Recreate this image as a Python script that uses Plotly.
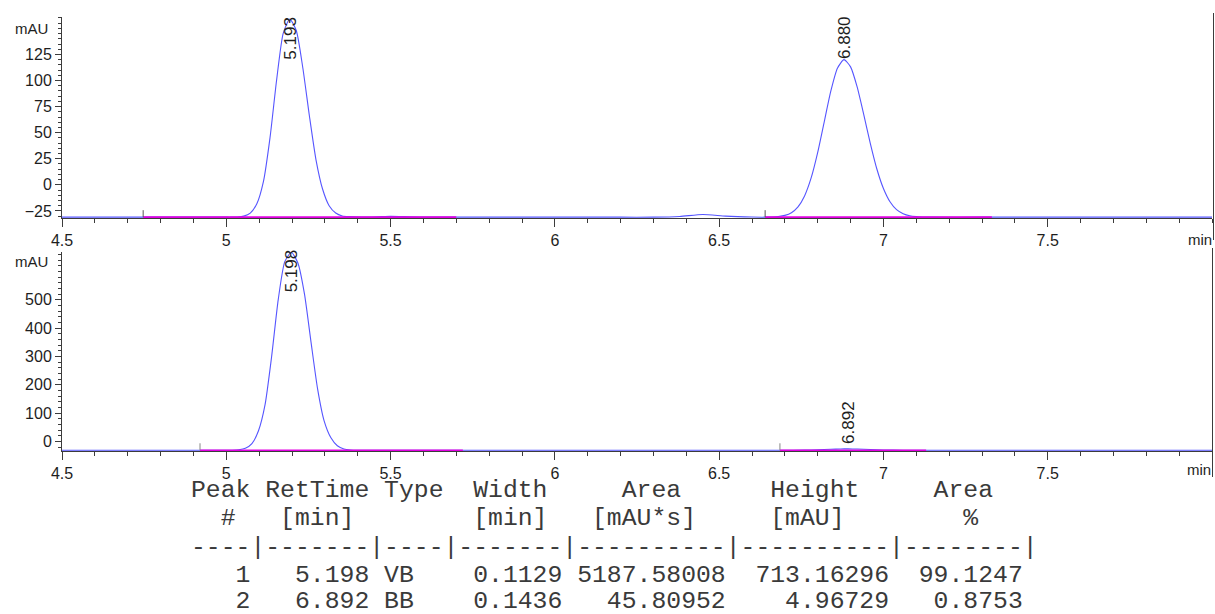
import plotly.graph_objects as go

# ---------------- data ----------------
# Upper chromatogram (signal 1)
top_time = [4.50, 4.75, 5.00, 5.013, 5.033, 5.053, 5.073, 5.093, 5.113, 5.133, 5.153, 5.173,
            5.193, 5.213, 5.233, 5.253, 5.273, 5.293, 5.313, 5.333, 5.353, 5.373, 5.393,
            5.43, 5.46, 5.50, 5.56, 5.62, 5.80, 6.00, 6.20, 6.30, 6.38, 6.45, 6.52, 6.60,
            6.64, 6.66, 6.68, 6.70, 6.72, 6.74, 6.76, 6.78, 6.80, 6.82, 6.84, 6.86, 6.88,
            6.90, 6.92, 6.94, 6.96, 6.98, 7.00, 7.02, 7.04, 7.06, 7.08, 7.10, 7.12, 7.14,
            7.30, 7.60, 8.00]
top_signal = [-31.0, -31.0, -31.0, -31.0, -30.8, -30.0, -27.1, -18.2, 3.0, 45.0, 100.0, 145.0,
              159.0, 148.0, 112.0, 66.0, 24.0, -4.0, -20.0, -27.0, -29.8, -30.5, -30.7,
              -30.8, -30.6, -30.2, -30.6, -30.9, -31.0, -31.0, -31.0, -31.0, -30.3, -28.4, -30.0, -30.9,
              -31.0, -30.8, -30.4, -29.3, -26.7, -21.1, -10.6, 6.6, 31.1, 60.7, 90.0, 111.8, 120.0,
              113.1, 93.9, 67.6, 39.8, 15.2, -3.5, -16.2, -23.8, -27.7, -29.7, -30.5, -30.8, -31.0,
              -31.0, -31.0, -31.0]

# Lower chromatogram (signal 2)
bot_time = [4.50, 4.90, 5.018, 5.038, 5.058, 5.078, 5.098, 5.118, 5.138, 5.158, 5.178, 5.198,
            5.218, 5.238, 5.258, 5.278, 5.298, 5.318, 5.338, 5.358, 5.378, 5.398, 5.45,
            5.70, 6.20, 6.70, 6.76, 6.80, 6.84, 6.87, 6.892, 6.92, 6.96, 7.00, 7.06, 7.12,
            7.50, 8.00]
bot_signal = [-31.0, -31.0, -30.6, -29.3, -24.2, -7.6, 38.0, 130.0, 300.0, 500.0, 635.0, 668.0,
              630.0, 520.0, 350.0, 185.0, 72.0, 14.0, -15.0, -26.5, -29.9, -30.8, -31.0,
              -31.0, -31.0, -31.0, -30.5, -29.3, -27.3, -26.3, -26.0, -26.5, -28.3, -30.0, -30.9, -31.0,
              -31.0, -31.0]

baseline_level = -31.0
top_base_start = [4.747, 6.640]
top_base_end = [5.700, 7.330]
bot_base_start = [4.920, 6.685]
bot_base_end = [5.720, 7.130]

top_peak_labels = ["5.193", "6.880"]
top_peak_times = [5.193, 6.880]
bot_peak_labels = ["5.198", "6.892"]
bot_peak_times = [5.198, 6.892]

x_ticks = [4.5, 5.0, 5.5, 6.0, 6.5, 7.0, 7.5]
x_tick_text = ["4.5", "5", "5.5", "6", "6.5", "7", "7.5"]
top_y_ticks = [-25, 0, 25, 50, 75, 100, 125]
bot_y_ticks = [0, 100, 200, 300, 400, 500]

# Peak table
peak_no = [1, 2]
ret_time = [5.198, 6.892]
peak_type = ["VB", "BB"]
peak_width = [0.1129, 0.1436]
peak_area = [5187.58008, 45.80952]
peak_height = [713.16296, 4.96729]
area_pct = [99.1247, 0.8753]

# ---------------- helpers (layout only) ----------------
W, H = 1215, 614
def px(x):
    return x / W
def py(y):
    return 1 - y / H

TRACE = "rgb(85,85,255)"
BASE = "rgb(225,0,225)"
AXC = "#3c3c3c"
TXT = "#1e1e1e"
SANS = "Liberation Sans, Arial, sans-serif"
MONO = "Liberation Mono, Courier New, monospace"

fig = go.Figure()

# traces
fig.add_trace(go.Scatter(x=top_time, y=top_signal, mode="lines",
                         line=dict(color=TRACE, width=1.1, shape="spline", smoothing=0.6),
                         xaxis="x", yaxis="y", hoverinfo="skip"))
for s, e in zip(top_base_start, top_base_end):
    fig.add_trace(go.Scatter(x=[s, e], y=[baseline_level, baseline_level], mode="lines",
                             line=dict(color=BASE, width=1.6), xaxis="x", yaxis="y", hoverinfo="skip"))
fig.add_trace(go.Scatter(x=bot_time, y=bot_signal, mode="lines",
                         line=dict(color=TRACE, width=1.1, shape="spline", smoothing=0.6),
                         xaxis="x2", yaxis="y2", hoverinfo="skip"))
for s, e in zip(bot_base_start, bot_base_end):
    fig.add_trace(go.Scatter(x=[s, e], y=[baseline_level, baseline_level], mode="lines",
                             line=dict(color=BASE, width=1.6), xaxis="x2", yaxis="y2", hoverinfo="skip"))

shapes = []
# baseline event markers
for t in top_base_start:
    shapes.append(dict(type="line", xref="x", yref="y", x0=t, x1=t, ysizemode="pixel",
                       yanchor=baseline_level, y0=0, y1=7, line=dict(color="#555", width=1)))
for t in bot_base_start:
    shapes.append(dict(type="line", xref="x2", yref="y2", x0=t, x1=t, ysizemode="pixel",
                       yanchor=baseline_level, y0=0, y1=7, line=dict(color="#888", width=1)))
# right borders
shapes.append(dict(type="line", xref="paper", yref="paper", x0=px(1213.5), x1=px(1213.5),
                   y0=py(13), y1=py(240), line=dict(color=AXC, width=1)))
shapes.append(dict(type="line", xref="paper", yref="paper", x0=px(1212.5), x1=px(1212.5),
                   y0=py(248), y1=py(477), line=dict(color=AXC, width=1)))

annotations = []
# peak labels
for lab, t in zip(top_peak_labels, top_peak_times):
    annotations.append(dict(text=lab, x=t, xref="x", y=py(38), yref="paper", showarrow=False,
                            textangle=-90, xanchor="center", yanchor="middle",
                            font=dict(family=SANS, size=17, color=TXT)))
bot_label_y = [271, 422]
for lab, t, yy in zip(bot_peak_labels, bot_peak_times, bot_label_y):
    annotations.append(dict(text=lab, x=t, xref="x2", y=py(yy), yref="paper", showarrow=False,
                            textangle=-90, xanchor="center", yanchor="middle",
                            font=dict(family=SANS, size=17, color=TXT)))
# unit labels
annotations.append(dict(text="mAU", x=px(50), xref="paper", y=py(28), yref="paper", showarrow=False,
                        xanchor="right", yanchor="middle", font=dict(family=SANS, size=15, color=TXT)))
annotations.append(dict(text="mAU", x=px(50), xref="paper", y=py(261), yref="paper", showarrow=False,
                        xanchor="right", yanchor="middle", font=dict(family=SANS, size=15, color=TXT)))
annotations.append(dict(text="min", x=px(1214), xref="paper", y=py(240), yref="paper", showarrow=False,
                        xanchor="right", yanchor="middle", font=dict(family=SANS, size=15, color=TXT)))
annotations.append(dict(text="min", x=px(1213), xref="paper", y=py(469), yref="paper", showarrow=False,
                        xanchor="right", yanchor="middle", font=dict(family=SANS, size=15, color=TXT)))

# peak table (fixed-width text)
lines = [
    "Peak RetTime Type  Width     Area      Height     Area",
    "  #   [min]        [min]   [mAU*s]     [mAU]        %",
    "----|-------|----|-------|----------|----------|--------|",
]
for n, rt, tp, w, a, h, p in zip(peak_no, ret_time, peak_type, peak_width, peak_area, peak_height, area_pct):
    lines.append(f"{n:>4}{rt:>8.3f} {tp:<2}{w:>10.4f}{a:>11.5f}{h:>11.5f}{p:>9.4f}")
line_y = [490, 518, 547, 575, 601]
for txt, yy in zip(lines, line_y):
    annotations.append(dict(text=txt.replace(" ", "\u00a0"), x=px(189), xref="paper", y=py(yy),
                            yref="paper", showarrow=False, xanchor="left", yanchor="middle",
                            font=dict(family=MONO, size=24.75, color="#3a3a3a")))

xcommon = dict(range=[4.5, 8.0], domain=[px(62), px(1212)], tickvals=x_ticks, ticktext=x_tick_text,
               ticks="outside", ticklen=8, tickcolor=AXC, tickwidth=1, showline=True, linecolor=AXC,
               linewidth=1, showgrid=False, zeroline=False, tickfont=dict(family=SANS, size=16, color=TXT),
               automargin=False, layer="below traces",
               minor=dict(dtick=0.1, tick0=4.5, ticks="outside", ticklen=4, tickcolor=AXC, showgrid=False))

fig.update_layout(
    width=W, height=H, autosize=False, margin=dict(l=0, r=0, t=0, b=0, pad=0),
    paper_bgcolor="white", plot_bgcolor="white", showlegend=False,
    xaxis=dict(anchor="y", **xcommon),
    xaxis2=dict(anchor="y2", **xcommon),
    yaxis=dict(anchor="x", domain=[py(218), py(17)], range=[-31.8, 160.9], tickvals=top_y_ticks,
               ticks="outside", ticklen=6, tickcolor=AXC, showline=True, linecolor=AXC, linewidth=1,
               showgrid=False, zeroline=False, tickfont=dict(family=SANS, size=16, color=TXT),
               automargin=False, layer="below traces",
               minor=dict(dtick=5, tick0=0, ticks="outside", ticklen=3, tickcolor=AXC, showgrid=False)),
    yaxis2=dict(anchor="x2", domain=[py(451), py(252)], range=[-33.5, 669], tickvals=bot_y_ticks,
                ticks="outside", ticklen=6, tickcolor=AXC, showline=True, linecolor=AXC, linewidth=1,
                showgrid=False, zeroline=False, tickfont=dict(family=SANS, size=16, color=TXT),
                automargin=False, layer="below traces",
                minor=dict(dtick=20, tick0=0, ticks="outside", ticklen=3, tickcolor=AXC, showgrid=False)),
    shapes=shapes, annotations=annotations,
)

fig.write_html("out.html", config={"displayModeBar": False},
               post_script="document.body.style.margin='0';document.body.style.overflow='hidden';")
